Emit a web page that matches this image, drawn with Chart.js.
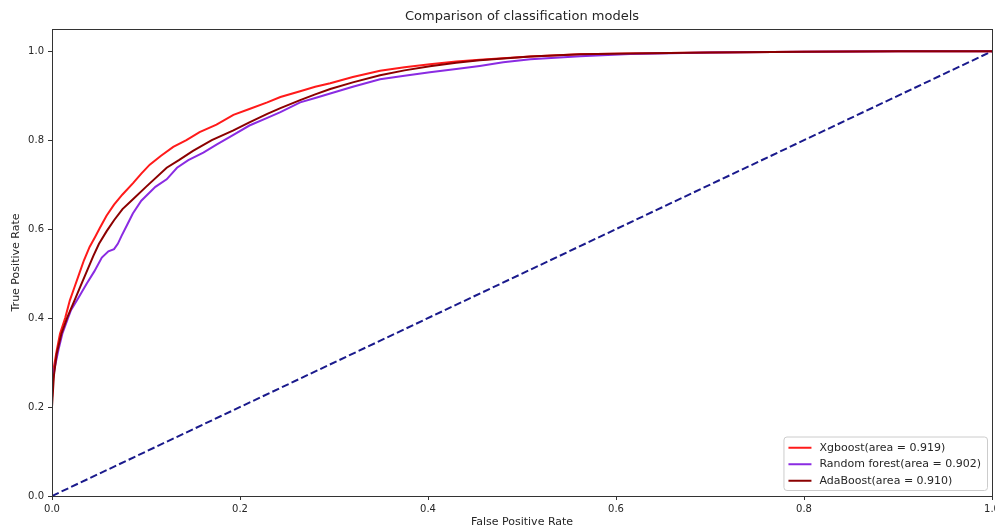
<!DOCTYPE html>
<html>
<head>
<meta charset="utf-8">
<script src="https://cdn.jsdelivr.net/npm/chart.js@4.4.1/dist/chart.umd.min.js"></script>
<style>
html,body{margin:0;padding:0;background:#fff;}
#c{display:block;}
</style>
</head>
<body>
<canvas id="c" width="995" height="532"></canvas>
<script>
// ---- data ----
const titleText = "Comparison of classification models";
const xLabel = "False Positive Rate";
const yLabel = "True Positive Rate";
const xTicks = [0, 0.2, 0.4, 0.6, 0.8, 1.0];
const yTicks = [0, 0.2, 0.4, 0.6, 0.8, 1.0];

const xgbFpr = [0,0,0.002,0.005,0.0085,0.014,0.019,0.024,0.029,0.034,0.04,0.046,0.051,0.058,0.066,0.075,0.086,0.095,0.104,0.116,0.129,0.143,0.157,0.175,0.193,0.21,0.229,0.243,0.264,0.28,0.296,0.32,0.349,0.375,0.402,0.43,0.455,0.509,0.562,0.615,0.7,0.8,0.9,1.0];
const xgbTpr = [0,0.22,0.29,0.327,0.365,0.40,0.44,0.47,0.50,0.53,0.56,0.583,0.603,0.63,0.655,0.678,0.703,0.725,0.745,0.765,0.785,0.80,0.818,0.835,0.857,0.87,0.885,0.897,0.91,0.92,0.928,0.942,0.956,0.964,0.971,0.977,0.981,0.988,0.993,0.995,0.997,0.999,1.0,1.0];

const rfFpr = [0,0,0.003,0.007,0.011,0.017,0.02,0.028,0.037,0.045,0.053,0.06,0.066,0.07,0.074,0.08,0.086,0.095,0.11,0.122,0.133,0.145,0.161,0.175,0.193,0.21,0.229,0.243,0.264,0.28,0.296,0.32,0.349,0.375,0.402,0.43,0.455,0.48,0.509,0.562,0.615,0.7,0.8,0.9,1.0];
const rfTpr = [0,0.25,0.29,0.33,0.365,0.40,0.417,0.445,0.478,0.505,0.536,0.55,0.555,0.567,0.585,0.61,0.635,0.664,0.695,0.712,0.738,0.755,0.772,0.79,0.812,0.833,0.85,0.863,0.885,0.895,0.905,0.92,0.937,0.945,0.953,0.96,0.967,0.975,0.982,0.989,0.994,0.997,0.999,1.0,1.0];

const adaFpr = [0,0,0.002,0.005,0.01,0.016,0.02,0.025,0.03,0.036,0.044,0.05,0.058,0.066,0.075,0.085,0.1,0.122,0.135,0.15,0.17,0.193,0.21,0.229,0.243,0.264,0.28,0.296,0.32,0.349,0.375,0.402,0.43,0.455,0.509,0.562,0.615,0.7,0.8,0.9,1.0];
const adaTpr = [0,0.2,0.27,0.32,0.365,0.40,0.42,0.445,0.47,0.5,0.54,0.567,0.595,0.62,0.645,0.665,0.695,0.738,0.755,0.776,0.80,0.822,0.84,0.859,0.872,0.89,0.903,0.915,0.93,0.946,0.957,0.966,0.974,0.98,0.988,0.993,0.995,0.997,0.999,1.0,1.0];

const diagFpr = [0, 1];
const diagTpr = [0, 1];

const seriesNames = ["Xgboost(area = 0.919)", "Random forest(area = 0.902)", "AdaBoost(area = 0.910)"];

// ---- build ----
const pts = (xs, ys) => xs.map((x, i) => ({x: x, y: ys[i]}));
const FONT = "'DejaVu Sans', sans-serif";
const TXT = '#262626';

const datasets = [
  {label: seriesNames[0], data: pts(xgbFpr, xgbTpr), borderColor: '#ff1a1a', order: 2},
  {label: seriesNames[1], data: pts(rfFpr, rfTpr), borderColor: '#8a2be2', order: 1},
  {label: seriesNames[2], data: pts(adaFpr, adaTpr), borderColor: '#8b0000', order: 0},
  {label: 'diag', data: pts(diagFpr, diagTpr), borderColor: '#1a1a8c', borderDash: [7.4, 3.2], order: 3, isDiag: true}
].map(d => Object.assign({showLine: true, pointRadius: 0, borderWidth: 2, fill: false, tension: 0}, d));

const framePlugin = {
  id: 'frame',
  afterDraw(chart) {
    const ctx = chart.ctx, a = chart.chartArea;
    ctx.save();
    ctx.strokeStyle = '#333';
    ctx.lineWidth = 1;
    ctx.strokeRect(Math.round(a.left) + 0.5, Math.round(a.top) + 0.5, Math.round(a.right - a.left), Math.round(a.bottom - a.top));
    ctx.fillStyle = TXT;
    ctx.font = "13px " + FONT;
    ctx.textAlign = 'center';
    ctx.textBaseline = 'middle';
    ctx.fillText(titleText, (a.left + a.right) / 2, 17);
    const items = chart.data.datasets.filter(d => !d.isDiag);
    ctx.font = "11px " + FONT;
    let maxW = 0;
    items.forEach(d => { maxW = Math.max(maxW, ctx.measureText(d.label).width); });
    const rowH = 16.5;
    const boxW = 5 + 23 + 8 + maxW + 6;
    const boxH = items.length * rowH + 4;
    const bx = a.right - 5 - boxW, by = a.bottom - 6 - boxH;
    ctx.beginPath();
    if (ctx.roundRect) ctx.roundRect(bx + 0.5, by + 0.5, boxW, boxH, 3); else ctx.rect(bx + 0.5, by + 0.5, boxW, boxH);
    ctx.fillStyle = 'rgba(255,255,255,0.85)';
    ctx.fill();
    ctx.strokeStyle = '#cccccc';
    ctx.lineWidth = 1;
    ctx.stroke();
    items.forEach((d, i) => {
      const cy = by + 2 + rowH * i + rowH / 2 + 1;
      ctx.strokeStyle = d.borderColor;
      ctx.lineWidth = 2;
      ctx.setLineDash([]);
      ctx.beginPath();
      ctx.moveTo(bx + 5, cy);
      ctx.lineTo(bx + 28, cy);
      ctx.stroke();
      ctx.fillStyle = TXT;
      ctx.textAlign = 'left';
      ctx.textBaseline = 'middle';
      ctx.fillText(d.label, bx + 36, cy);
    });
    ctx.restore();
  }
};

new Chart(document.getElementById('c'), {
  type: 'scatter',
  data: {datasets: datasets},
  options: {
    responsive: false,
    animation: false,
    devicePixelRatio: 1,
    layout: {padding: {top: 29, right: 3, left: 0, bottom: 0}},
    plugins: {legend: {display: false}, title: {display: false}, tooltip: {enabled: false}},
    scales: {
      x: {
        type: 'linear', min: 0, max: 1,
        afterBuildTicks: s => { s.ticks = xTicks.map(v => ({value: v})); },
        afterFit: s => { s.height = 36; s.paddingLeft = 0; s.paddingRight = 0; },
        ticks: {callback: v => Number(v).toFixed(1), color: TXT, font: {family: FONT, size: 10}, padding: 3, maxRotation: 0, autoSkip: false},
        grid: {drawOnChartArea: false, drawTicks: true, tickLength: 4, tickColor: '#333'},
        border: {display: true, color: '#333', width: 1},
        title: {display: true, text: xLabel, color: TXT, font: {family: FONT, size: 11}, padding: {top: 0, bottom: 3}}
      },
      y: {
        type: 'linear', min: 0, max: 1.05,
        afterBuildTicks: s => { s.ticks = yTicks.map(v => ({value: v})); },
        afterFit: s => { s.width = 52; s.paddingTop = 0; s.paddingBottom = 0; },
        ticks: {callback: v => Number(v).toFixed(1), color: TXT, font: {family: FONT, size: 10}, padding: 4, autoSkip: false},
        grid: {drawOnChartArea: false, drawTicks: true, tickLength: 4, tickColor: '#333'},
        border: {display: true, color: '#333', width: 1},
        title: {display: true, text: yLabel, color: TXT, font: {family: FONT, size: 11}, padding: {top: 10, bottom: 0}}
      }
    }
  },
  plugins: [framePlugin]
});
</script>
</body>
</html>
